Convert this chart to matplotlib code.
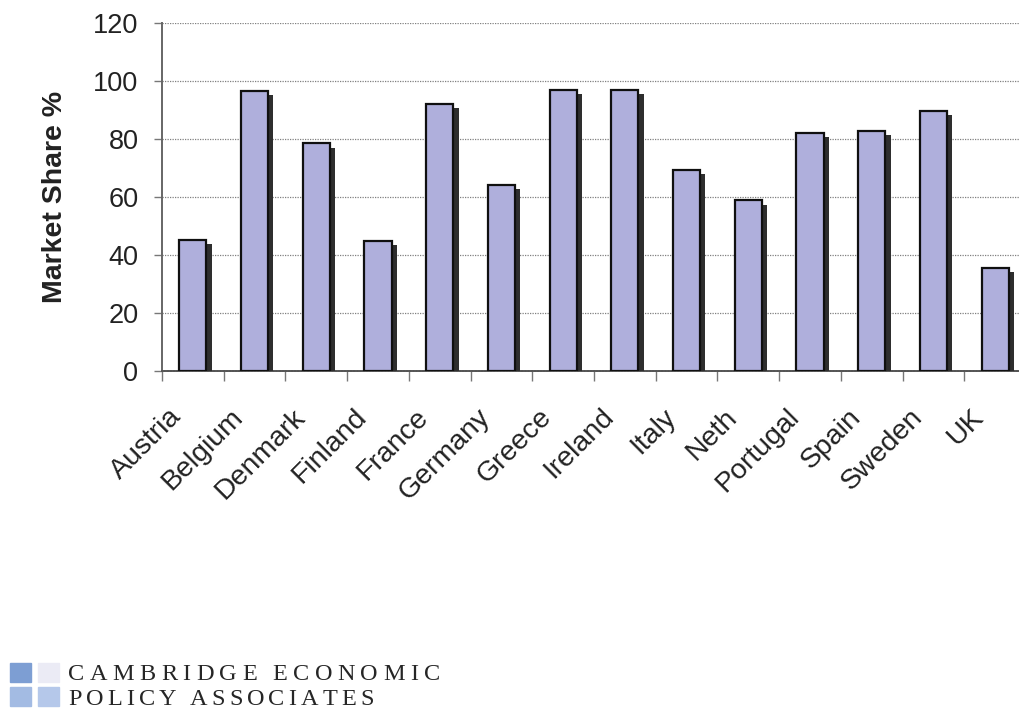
import matplotlib
matplotlib.use("Agg")
import matplotlib.pyplot as plt
import matplotlib.patheffects as pe
from matplotlib.patches import Rectangle
import numpy as np

countries = ["Austria", "Belgium", "Denmark", "Finland", "France", "Germany", "Greece",
             "Ireland", "Italy", "Neth", "Portugal", "Spain", "Sweden", "UK"]
share = [45.2, 96.6, 78.5, 44.8, 92.0, 64.1, 97.0, 97.0, 69.2, 58.8, 82.0, 82.7, 89.6, 35.6]
yticks = [0, 20, 40, 60, 80, 100, 120]

plt.rcParams['font.family'] = ['Liberation Sans', 'DejaVu Sans']

fig = plt.figure(figsize=(10.2, 7.13), dpi=100)
ax = fig.add_axes([162 / 1020, 342 / 713, 864 / 1020, 348 / 713])

x = np.arange(len(countries))
bars = ax.bar(x, share, width=0.44, color="#afafdc", edgecolor="#101010", linewidth=1.6, zorder=3)
for b in bars:
    b.set_path_effects([pe.SimplePatchShadow(offset=(3.8, -3.0), shadow_rgbFace="#2e2e2e", alpha=1.0),
                        pe.Normal()])

ax.set_xlim(-0.5, len(countries) - 0.5)
ax.set_ylim(0, 120)
ax.set_yticks(yticks)
ax.set_yticklabels([str(v) for v in yticks], fontsize=19.5, color="#222222")
ax.tick_params(axis="y", length=6, width=1, color="#777777", pad=11)

# category ticks between bars, labels drawn separately at centres
ax.set_xticks(np.arange(len(countries) + 1) - 0.5)
ax.set_xticklabels([])
ax.tick_params(axis="x", which="major", length=7, width=1, color="#777777")
for i, name in enumerate(countries):
    ax.annotate(name, xy=(i, 0), xycoords=("data", "axes fraction"),
                xytext=(-15, -42), textcoords="offset pixels",
                rotation=45, ha="right", va="center", rotation_mode="anchor",
                fontsize=20.5, color="#222222", annotation_clip=False)

ax.yaxis.grid(True, linestyle=(0, (1, 1)), color="#808080", linewidth=0.9, zorder=0)
for s in ["top", "right"]:
    ax.spines[s].set_visible(False)
ax.spines["left"].set_color("#666666")
ax.spines["left"].set_linewidth(1.4)
ax.spines["bottom"].set_color("#555555")
ax.spines["bottom"].set_linewidth(1.4)
ax.spines["bottom"].set_linestyle((0, (1, 0.6)))

ax.set_ylabel("Market Share %", fontsize=20.5, fontweight="bold", color="#222222", labelpad=18)

# logo
logo_colors = ["#7d9ed3", "#ebebf5", "#a3bbe3", "#b5c8ea"]
logo_pos = [(10, 663), (38, 663), (10, 687), (38, 687)]
for (px, py), c in zip(logo_pos, logo_colors):
    fig.patches.append(Rectangle((px / 1020, 1 - (py + 19) / 713), 21 / 1020, 19 / 713,
                                 transform=fig.transFigure, color=c))

renderer = fig.canvas.get_renderer()
lines = [("CAMBRIDGE ECONOMIC", 680, 440), ("POLICY ASSOCIATES", 705, 374)]
for txt, base, right in lines:
    items = []
    for ch in txt:
        t = fig.text(0, 1 - base / 713, ch, family="Liberation Serif", fontsize=17.5,
                     color="#262626", va="baseline", ha="left")
        items.append(t)
    widths = [t.get_window_extent(renderer).width if ch != " " else 5 for t, ch in zip(items, txt)]
    track = (right - 68 - sum(widths)) / (len(txt) - 1)
    cx = 68
    for t, w in zip(items, widths):
        t.set_x(cx / 1020)
        cx += w + track

fig.savefig("out.png", dpi=100)
